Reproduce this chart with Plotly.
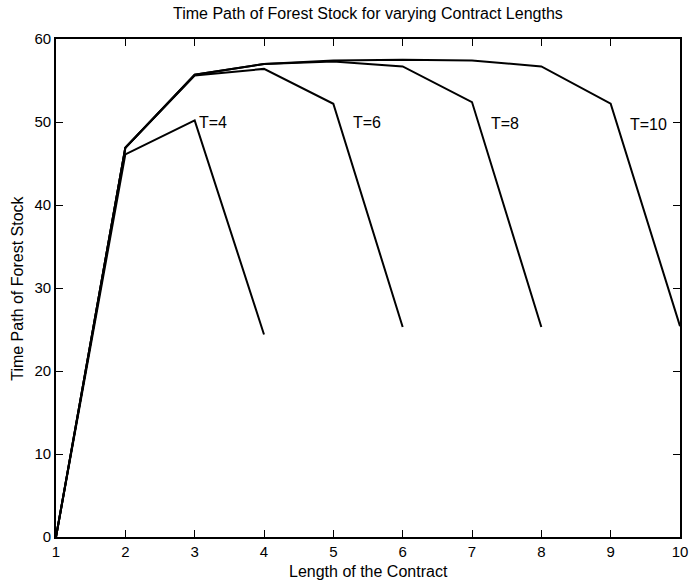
import plotly.graph_objects as go

# Forest stock paths for each contract length T (periods 1..T)
periods = list(range(1, 11))
stock_T4 = [0, 46.1, 50.2, 24.4]
stock_T6 = [0, 46.9, 55.6, 56.4, 52.2, 25.3]
stock_T8 = [0, 46.9, 55.7, 57.0, 57.3, 56.7, 52.4, 25.3]
stock_T10 = [0, 46.9, 55.7, 57.0, 57.4, 57.5, 57.4, 56.7, 52.2, 25.4]

series = [("T=4", stock_T4), ("T=6", stock_T6), ("T=8", stock_T8), ("T=10", stock_T10)]

# label anchor positions (x, y) for each curve tag
label_pos = {"T=4": (3.03, 50.0), "T=6": (5.25, 50.0), "T=8": (7.25, 49.8), "T=10": (9.25, 49.7)}

x_ticks = list(range(1, 11))
y_ticks = [0, 10, 20, 30, 40, 50, 60]

FONT = "Liberation Sans, Arial, Helvetica, sans-serif"

fig = go.Figure()
for name, ys in series:
    fig.add_trace(go.Scatter(
        x=periods[:len(ys)], y=ys, mode="lines", name=name,
        line=dict(color="black", width=2), showlegend=False,
    ))

for name, (lx, ly) in label_pos.items():
    fig.add_annotation(x=lx, y=ly, text=name, showarrow=False,
                       xanchor="left", yanchor="middle",
                       font=dict(size=16, color="black", family=FONT))

# axis titles and chart title
fig.add_annotation(xref="paper", yref="paper", x=0.5, y=-0.07,
                   text="Length of the Contract", showarrow=False,
                   xanchor="center", yanchor="middle",
                   font=dict(size=16, color="black", family=FONT))
fig.add_annotation(xref="paper", yref="paper", x=-0.046, y=0.5,
                   text="Time Path of Forest Stock", showarrow=False, textangle=-90,
                   xanchor="right", yanchor="middle",
                   font=dict(size=16, color="black", family=FONT))
fig.add_annotation(xref="paper", yref="paper", x=0.5, y=1.052,
                   text="Time Path of Forest Stock for varying Contract Lengths",
                   showarrow=False, xanchor="center", yanchor="middle",
                   font=dict(size=16, color="black", family=FONT))

axis_common = dict(
    showgrid=False, zeroline=False, showline=True, linecolor="black",
    linewidth=1.6, mirror="ticks", ticks="inside", ticklen=7,
    tickcolor="black", tickwidth=1.3, ticklabeloverflow="allow",
    automargin=False,
    tickfont=dict(size=15, color="black", family=FONT),
)

fig.update_layout(
    width=690, height=581,
    paper_bgcolor="white", plot_bgcolor="white",
    margin=dict(l=56, r=10, t=39, b=44),
    font=dict(family=FONT, color="black"),
    xaxis=dict(range=[1, 10], tickvals=x_ticks, **axis_common),
    yaxis=dict(range=[0, 60], tickvals=y_ticks, **axis_common),
)

fig.write_html("out.html")
